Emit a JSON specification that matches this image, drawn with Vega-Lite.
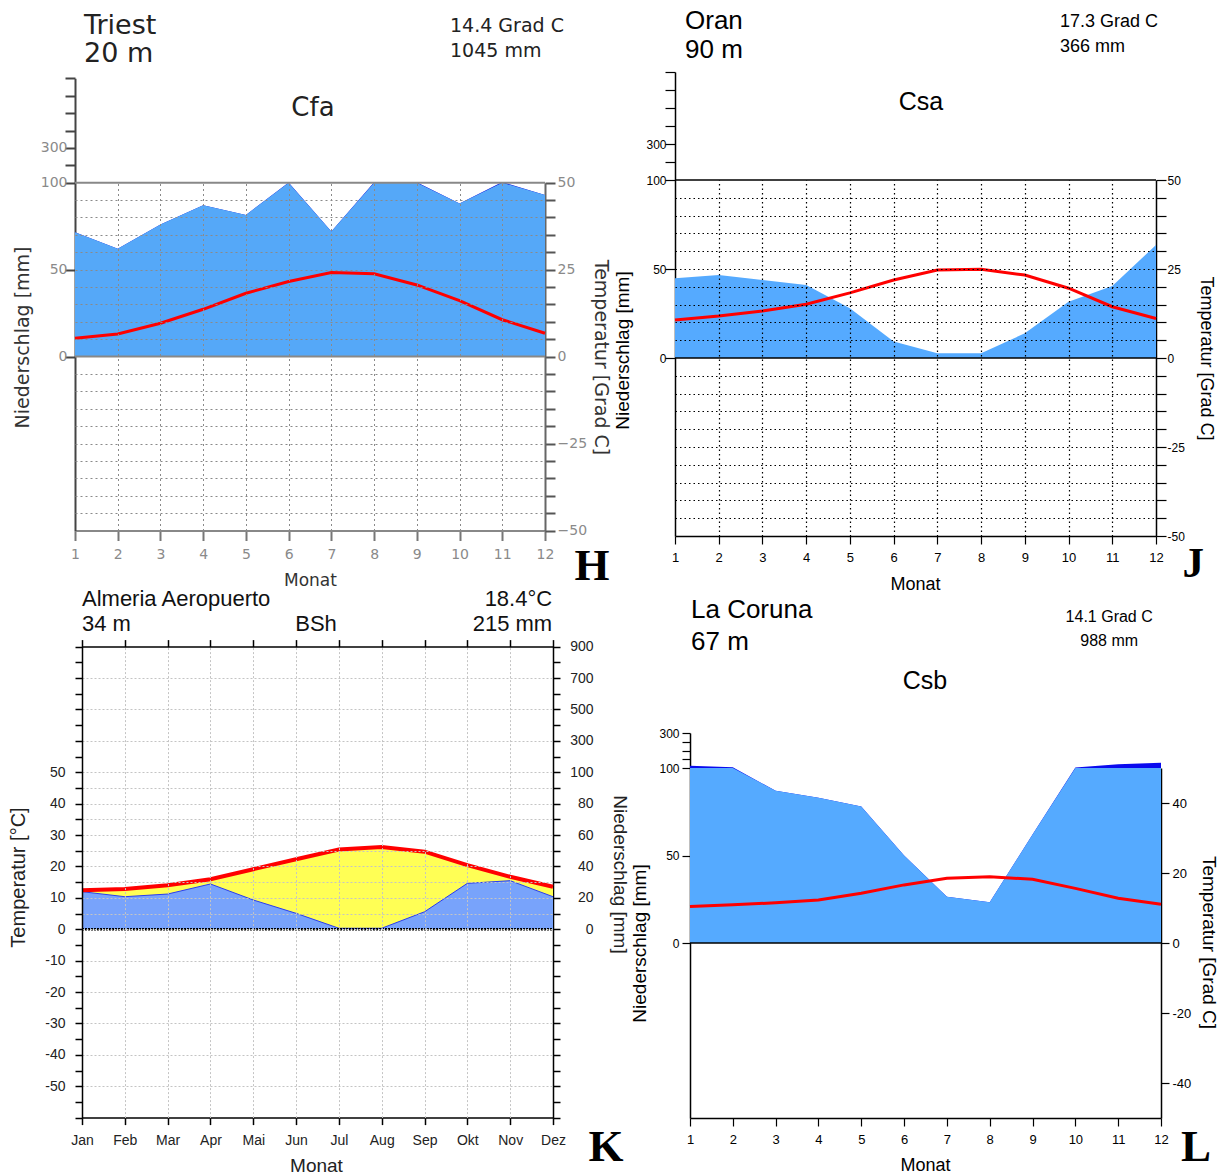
{
"$schema": "https://vega.github.io/schema/vega-lite/v6.json",
"width": 1227, "height": 1175, "autosize": {"type": "none"}, "padding": 0,
"background": "#ffffff",
"config": {"view": {"stroke": null}, "axis": {"labelFlush": false, "labelOverlap": false, "labelBound": false, "titleFontWeight": "normal", "grid": false}},
"datasets": {
"triest": [{"m":1,"p":71.5,"t":5.3},{"m":2,"p":62,"t":6.5},{"m":3,"p":76,"t":9.6},{"m":4,"p":87,"t":13.6},{"m":5,"p":81.5,"t":18.2},{"m":6,"p":101,"t":21.6},{"m":7,"p":72,"t":24.2},{"m":8,"p":102,"t":23.8},{"m":9,"p":102,"t":20.6},{"m":10,"p":88,"t":16.1},{"m":11,"p":104,"t":10.6},{"m":12,"p":93,"t":6.7}],
"oran": [{"m":1,"p":44.8,"t":10.7},{"m":2,"p":46.6,"t":11.8},{"m":3,"p":43.8,"t":13.2},{"m":4,"p":41,"t":15.1},{"m":5,"p":27.9,"t":18.3},{"m":6,"p":9.2,"t":21.9},{"m":7,"p":2.6,"t":24.7},{"m":8,"p":2.6,"t":24.9},{"m":9,"p":13.9,"t":23.3},{"m":10,"p":31.6,"t":19.6},{"m":11,"p":40.4,"t":14.4},{"m":12,"p":63.5,"t":11.1}],
"almeria": [{"m":1,"p":23.9,"t":12.4},{"m":2,"p":20.7,"t":12.8},{"m":3,"p":22.4,"t":14.0},{"m":4,"p":28.8,"t":15.9},{"m":5,"p":18.6,"t":19.1},{"m":6,"p":10.1,"t":22.3},{"m":7,"p":0.6,"t":25.4},{"m":8,"p":0.6,"t":26.2},{"m":9,"p":11.1,"t":24.7},{"m":10,"p":29.2,"t":20.4},{"m":11,"p":30.9,"t":16.7},{"m":12,"p":20.7,"t":13.5}],
"coruna": [{"m":1,"p":113,"t":10.4},{"m":2,"p":104,"t":10.9},{"m":3,"p":87,"t":11.5},{"m":4,"p":83,"t":12.3},{"m":5,"p":78,"t":14.2},{"m":6,"p":50,"t":16.6},{"m":7,"p":26.5,"t":18.5},{"m":8,"p":23.3,"t":18.9},{"m":9,"p":62,"t":18.2},{"m":10,"p":103,"t":15.6},{"m":11,"p":122,"t":12.8},{"m":12,"p":130,"t":11.1}]
},
"resolve": {"scale": {"x": "independent", "y": "independent"}, "axis": {"x": "independent", "y": "independent"}},
"layer": [
{"data": {"name": "triest"}, "mark": {"type": "area", "color": "#0a0adc"},
 "encoding": {
  "x": {"field": "m", "type": "quantitative", "scale": {"domain": [1,12], "range": [75,545], "nice": false, "zero": false}, "axis": null},
  "y": {"field": "p", "type": "quantitative", "scale": {"domain": [-100,0,100,700], "range": [530.5,356.7,182.7,78.3], "nice": false, "zero": false},
   "axis": {"orient": "left", "offset": -75, "values": [0,50,100,200,300,400,500,600,700], "labelExpr": "datum.value==0||datum.value==50||datum.value==100||datum.value==300 ? datum.label : ''", "tickSize": 10, "tickColor": "#444", "tickWidth": 2, "domainColor": "#444", "domainWidth": 2, "labelFont": "DejaVu Sans", "labelFontSize": 14, "labelColor": "#8a8a8a", "labelPadding": -2, "title": "Niederschlag [mm]", "titleFont": "DejaVu Sans", "titleFontSize": 19, "titleColor": "#333", "titleX": -53, "titleY": 337, "titleAngle": -90, "titleAlign": "center", "titleBaseline": "middle"}},
  "y2": {"datum": 0}}},
{"data": {"name": "triest"}, "mark": {"type": "area", "color": "#55a8f8"},
 "encoding": {
  "x": {"field": "m", "type": "quantitative", "scale": {"domain": [1,12], "range": [75,545], "nice": false, "zero": false},
   "axis": {"orient": "bottom", "offset": -644.5, "values": [1,2,3,4,5,6,7,8,9,10,11,12], "tickSize": 10, "tickColor": "#777", "tickWidth": 2, "domainColor": "#888", "domainWidth": 2, "labelFont": "DejaVu Sans", "labelFontSize": 14, "labelColor": "#8a8a8a", "labelPadding": 7, "title": "Monat", "titleFont": "DejaVu Sans", "titleFontSize": 17, "titleColor": "#333", "titleX": 310, "titleY": 50, "titleAlign": "center", "titleBaseline": "middle"}},
  "y": {"field": "p", "type": "quantitative", "scale": {"domain": [-100,0,100], "range": [530.5,356.7,182.7], "clamp": true, "nice": false, "zero": false}, "axis": null},
  "y2": {"datum": 0}}},
{"data": {"values": [{"v": 0}, {"v": 50}]}, "mark": {"type": "rule", "color": "#888", "strokeWidth": 2},
 "encoding": {
  "x": {"datum": 1, "type": "quantitative", "scale": {"domain": [1,12], "range": [75,545], "nice": false, "zero": false},
   "axis": {"orient": "top", "values": [2,3,4,5,6,7,8,9,10,11], "domain": false, "ticks": false, "labels": false, "title": null, "grid": true, "gridColor": "#8a8a8a", "gridDash": [2,3], "gridWidth": 1, "zindex": 1}},
  "x2": {"datum": 12},
  "y": {"field": "v", "type": "quantitative", "scale": {"domain": [-50,50], "range": [530.5,182.7], "nice": false, "zero": false},
   "axis": {"orient": "left", "values": [-45,-40,-35,-30,-25,-20,-15,-10,-5,5,10,15,20,25,30,35,40,45], "domain": false, "ticks": false, "labels": false, "title": null, "grid": true, "gridColor": "#8a8a8a", "gridDash": [2,3], "gridWidth": 1, "zindex": 1}}}},
{"data": {"name": "triest"}, "mark": {"type": "line", "color": "#ff0000", "strokeWidth": 3},
 "encoding": {
  "x": {"field": "m", "type": "quantitative", "scale": {"domain": [1,12], "range": [75,545], "nice": false, "zero": false}, "axis": null},
  "y": {"field": "t", "type": "quantitative", "scale": {"domain": [-50,50], "range": [530.5,182.7], "nice": false, "zero": false},
   "axis": {"orient": "right", "offset": -682, "values": [-50,-45,-40,-35,-30,-25,-20,-15,-10,-5,0,5,10,15,20,25,30,35,40,45,50], "labelExpr": "datum.value % 25 == 0 ? datum.label : ''", "tickSize": 10, "tickColor": "#555", "tickWidth": 2, "domainColor": "#666", "domainWidth": 2, "labelFont": "DejaVu Sans", "labelFontSize": 14, "labelColor": "#8a8a8a", "labelPadding": 2, "title": "Temperatur [Grad C]", "titleFont": "DejaVu Sans", "titleFontSize": 19, "titleColor": "#333", "titleX": 55, "titleY": 357, "titleAngle": 90, "titleAlign": "center", "titleBaseline": "middle"}}}},
{"data": {"values": [{"txt": ["Triest", "20 m"]}]}, "mark": {"type": "text", "align": "left", "baseline": "top", "font": "DejaVu Sans", "fontSize": 27, "lineHeight": 28.4, "color": "#222"},
 "encoding": {"x": {"datum": 1.21, "type": "quantitative", "scale": {"domain": [1,12], "range": [75,545], "nice": false, "zero": false}, "axis": null}, "y": {"datum": 98.8, "type": "quantitative", "scale": {"domain": [-50,50], "range": [530.5,182.7], "nice": false, "zero": false}, "axis": null}, "text": {"field": "txt", "type": "nominal"}}},
{"data": {"values": [{"txt": ["14.4 Grad C", "1045 mm"]}]}, "mark": {"type": "text", "align": "left", "baseline": "top", "font": "DejaVu Sans", "fontSize": 19, "lineHeight": 25, "color": "#222"},
 "encoding": {"x": {"datum": 9.777, "type": "quantitative", "scale": {"domain": [1,12], "range": [75,545], "nice": false, "zero": false}, "axis": null}, "y": {"datum": 97.67, "type": "quantitative", "scale": {"domain": [-50,50], "range": [530.5,182.7], "nice": false, "zero": false}, "axis": null}, "text": {"field": "txt", "type": "nominal"}}},
{"data": {"values": [{"txt": "Cfa"}]}, "mark": {"type": "text", "align": "center", "baseline": "top", "font": "DejaVu Sans", "fontSize": 26, "color": "#222"},
 "encoding": {"x": {"datum": 6.57, "type": "quantitative", "scale": {"domain": [1,12], "range": [75,545], "nice": false, "zero": false}, "axis": null}, "y": {"datum": 75.1, "type": "quantitative", "scale": {"domain": [-50,50], "range": [530.5,182.7], "nice": false, "zero": false}, "axis": null}, "text": {"field": "txt", "type": "nominal"}}},
{"data": {"values": [{"txt": "H"}]}, "mark": {"type": "text", "align": "center", "baseline": "top", "font": "Liberation Serif", "fontWeight": "bold", "fontSize": 45, "color": "#000"},
 "encoding": {"x": {"datum": 13.1, "type": "quantitative", "scale": {"domain": [1,12], "range": [75,545], "nice": false, "zero": false}, "axis": null}, "y": {"datum": -54.0, "type": "quantitative", "scale": {"domain": [-50,50], "range": [530.5,182.7], "nice": false, "zero": false}, "axis": null}, "text": {"field": "txt", "type": "nominal"}}},

{"data": {"name": "oran"}, "mark": {"type": "area", "color": "#55aaff"},
 "encoding": {
  "x": {"field": "m", "type": "quantitative", "scale": {"domain": [1,12], "range": [675,1156], "nice": false, "zero": false}, "axis": null},
  "y": {"field": "p", "type": "quantitative", "scale": {"domain": [-100,0,100,700], "range": [536,358,180,72], "nice": false, "zero": false},
   "axis": {"orient": "left", "offset": -675, "values": [0,50,100,200,300,400,500,600,700], "labelExpr": "datum.value==0||datum.value==50||datum.value==100||datum.value==300 ? ''+datum.value : ''", "tickSize": 10, "tickColor": "#000", "tickWidth": 1.2, "domainColor": "#000", "domainWidth": 1.5, "labelFont": "Liberation Sans", "labelFontSize": 12, "labelColor": "#000", "labelPadding": -1, "title": "Niederschlag [mm]", "titleFont": "Liberation Sans", "titleFontSize": 19, "titleColor": "#000", "titleX": -53, "titleY": 350, "titleAngle": -90, "titleAlign": "center", "titleBaseline": "middle"}},
  "y2": {"datum": 0}}},
{"data": {"values": [{"v": 0}, {"v": 50}]}, "mark": {"type": "rule", "color": "#000", "strokeWidth": 1.5},
 "encoding": {
  "x": {"datum": 1, "type": "quantitative", "scale": {"domain": [1,12], "range": [675,1156], "nice": false, "zero": false},
   "axis": {"orient": "top", "values": [2,3,4,5,6,7,8,9,10,11], "domain": false, "ticks": false, "labels": false, "title": null, "grid": true, "gridColor": "#000", "gridDash": [1.5,3], "gridWidth": 1.2, "zindex": 1}},
  "x2": {"datum": 12},
  "y": {"field": "v", "type": "quantitative", "scale": {"domain": [-50,50], "range": [536,180], "nice": false, "zero": false},
   "axis": {"orient": "left", "values": [-45,-40,-35,-30,-25,-20,-15,-10,-5,5,10,15,20,25,30,35,40,45], "domain": false, "ticks": false, "labels": false, "title": null, "grid": true, "gridColor": "#000", "gridDash": [1.5,3], "gridWidth": 1.2, "zindex": 1}}}},
{"data": {"name": "oran"}, "mark": {"type": "line", "color": "#ff0000", "strokeWidth": 3},
 "encoding": {
  "x": {"field": "m", "type": "quantitative", "scale": {"domain": [1,12], "range": [675,1156], "nice": false, "zero": false},
   "axis": {"orient": "bottom", "offset": -639, "values": [1,2,3,4,5,6,7,8,9,10,11,12], "tickSize": 8, "tickColor": "#000", "tickWidth": 1.2, "domainColor": "#000", "domainWidth": 1.5, "labelFont": "Liberation Sans", "labelFontSize": 13, "labelColor": "#000", "labelPadding": 7, "title": "Monat", "titleFont": "Liberation Sans", "titleFontSize": 18, "titleColor": "#000", "titleX": 915, "titleY": 48, "titleAlign": "center", "titleBaseline": "middle"}},
  "y": {"field": "t", "type": "quantitative", "scale": {"domain": [-50,50], "range": [536,180], "nice": false, "zero": false},
   "axis": {"orient": "right", "offset": -71, "values": [-50,-45,-40,-35,-30,-25,-20,-15,-10,-5,0,5,10,15,20,25,30,35,40,45,50], "labelExpr": "datum.value % 25 == 0 ? ''+datum.value : ''", "tickSize": 10, "tickColor": "#000", "tickWidth": 1.2, "domainColor": "#000", "domainWidth": 1.5, "labelFont": "Liberation Sans", "labelFontSize": 12, "labelColor": "#000", "labelPadding": 1, "title": "Temperatur [Grad C]", "titleFont": "Liberation Sans", "titleFontSize": 18, "titleColor": "#000", "titleX": 49, "titleY": 358, "titleAngle": 90, "titleAlign": "center", "titleBaseline": "middle"}}}},
{"data": {"values": [{"txt": ["Oran", "90 m"]}]}, "mark": {"type": "text", "align": "left", "baseline": "top", "font": "Liberation Sans", "fontSize": 26, "lineHeight": 29, "color": "#000"},
 "encoding": {"x": {"datum": 1.229, "type": "quantitative", "scale": {"domain": [1,12], "range": [675,1156], "nice": false, "zero": false}, "axis": null}, "y": {"datum": 98.4, "type": "quantitative", "scale": {"domain": [-50,50], "range": [536,180], "nice": false, "zero": false}, "axis": null}, "text": {"field": "txt", "type": "nominal"}}},
{"data": {"values": [{"txt": ["17.3 Grad C", "366 mm"]}]}, "mark": {"type": "text", "align": "left", "baseline": "top", "font": "Liberation Sans", "fontSize": 18, "lineHeight": 25, "color": "#000"},
 "encoding": {"x": {"datum": 9.805, "type": "quantitative", "scale": {"domain": [1,12], "range": [675,1156], "nice": false, "zero": false}, "axis": null}, "y": {"datum": 97.05, "type": "quantitative", "scale": {"domain": [-50,50], "range": [536,180], "nice": false, "zero": false}, "axis": null}, "text": {"field": "txt", "type": "nominal"}}},
{"data": {"values": [{"txt": "Csa"}]}, "mark": {"type": "text", "align": "center", "baseline": "top", "font": "Liberation Sans", "fontSize": 25, "color": "#000"},
 "encoding": {"x": {"datum": 6.626, "type": "quantitative", "scale": {"domain": [1,12], "range": [675,1156], "nice": false, "zero": false}, "axis": null}, "y": {"datum": 75.2, "type": "quantitative", "scale": {"domain": [-50,50], "range": [536,180], "nice": false, "zero": false}, "axis": null}, "text": {"field": "txt", "type": "nominal"}}},
{"data": {"values": [{"txt": "J"}]}, "mark": {"type": "text", "align": "center", "baseline": "top", "font": "Liberation Serif", "fontWeight": "bold", "fontSize": 43, "color": "#000"},
 "encoding": {"x": {"datum": 12.85, "type": "quantitative", "scale": {"domain": [1,12], "range": [675,1156], "nice": false, "zero": false}, "axis": null}, "y": {"datum": -52.0, "type": "quantitative", "scale": {"domain": [-50,50], "range": [536,180], "nice": false, "zero": false}, "axis": null}, "text": {"field": "txt", "type": "nominal"}}},

{"data": {"name": "almeria"}, "mark": {"type": "area", "color": "#ffff55"},
 "encoding": {
  "x": {"field": "m", "type": "quantitative", "scale": {"domain": [1,12], "range": [82,553], "nice": false, "zero": false},
   "axis": {"orient": "bottom", "offset": -57.4, "values": [1,2,3,4,5,6,7,8,9,10,11,12], "labelExpr": "['Jan','Feb','Mar','Apr','Mai','Jun','Jul','Aug','Sep','Okt','Nov','Dez'][datum.value-1]", "tickSize": 7, "tickColor": "#000", "tickWidth": 1.5, "domainColor": "#000", "domainWidth": 1.5, "labelFont": "Liberation Sans", "labelFontSize": 14, "labelColor": "#222", "labelPadding": 9, "title": "Monat", "titleFont": "Liberation Sans", "titleFontSize": 19, "titleColor": "#222", "titleX": 316, "titleY": 47.4, "titleAlign": "center", "titleBaseline": "middle"}},
  "y": {"field": "t", "type": "quantitative", "scale": {"domain": [-60,90], "range": [1117.6,646.6], "nice": false, "zero": false},
   "axis": {"orient": "left", "offset": -82, "values": [-60,-55,-50,-45,-40,-35,-30,-25,-20,-15,-10,-5,0,5,10,15,20,25,30,35,40,45,50,55,60,65,70,75,80,85,90], "labelExpr": "datum.value>=-50 && datum.value<=50 && datum.value%10==0 ? ''+datum.value : ''", "tickSize": 7, "tickColor": "#000", "tickWidth": 1.5, "domainColor": "#000", "domainWidth": 1.5, "labelFont": "Liberation Sans", "labelFontSize": 14, "labelColor": "#222", "labelPadding": 10, "grid": true, "gridColor": "#c4c4c4", "gridDash": [2,2], "gridWidth": 1, "gridOpacity": {"condition": {"test": "(datum.value >= 0 && datum.value <= 50) || (datum.value < 0 && datum.value > -60 && datum.value % 10 == 0) || datum.value == 60 || datum.value == 70 || datum.value == 80", "value": 1}, "value": 0}, "zindex": 1, "title": "Temperatur [°C]", "titleFont": "Liberation Sans", "titleFontSize": 20, "titleColor": "#222", "titleX": -64, "titleY": 877, "titleAngle": -90, "titleAlign": "center", "titleBaseline": "middle"}},
  "y2": {"datum": 0}}},
{"data": {"name": "almeria"}, "mark": {"type": "area", "color": "#78a3fb", "opacity": 1, "line": {"color": "#2a3cf0", "strokeWidth": 1}},
 "encoding": {
  "x": {"field": "m", "type": "quantitative", "scale": {"domain": [1,12], "range": [82,553], "nice": false, "zero": false},
   "axis": {"orient": "top", "offset": -646.6, "values": [1,2,3,4,5,6,7,8,9,10,11,12], "labels": false, "tickSize": 7, "tickColor": "#000", "tickWidth": 1.5, "domainColor": "#000", "domainWidth": 1.5, "title": null}},
  "y": {"field": "p", "type": "quantitative", "scale": {"domain": [-120,0,100,900], "range": [1117.6,929.2,772.2,646.6], "nice": false, "zero": false},
   "axis": {"orient": "right", "offset": -674, "values": [-120,-110,-100,-90,-80,-70,-60,-50,-40,-30,-20,-10,0,10,20,30,40,50,60,70,80,90,100,200,300,400,500,600,700,800,900], "labelExpr": "indexof([0,20,40,60,80,100,300,500,700,900], datum.value) >= 0 ? ''+datum.value : ''", "tickSize": 7, "tickColor": "#000", "tickWidth": 1.5, "domainColor": "#000", "domainWidth": 1.5, "labelFont": "Liberation Sans", "labelFontSize": 14, "labelColor": "#222", "labelAlign": "right", "labelPadding": 33, "title": "Niederschlag [mm]", "titleFont": "Liberation Sans", "titleFontSize": 19, "titleColor": "#222", "titleX": 66, "titleY": 874, "titleAngle": 90, "titleAlign": "center", "titleBaseline": "middle"}},
  "y2": {"datum": 0}}},
{"data": {"name": "almeria"}, "mark": {"type": "line", "color": "#ff0000", "strokeWidth": 4},
 "encoding": {
  "x": {"field": "m", "type": "quantitative", "scale": {"domain": [1,12], "range": [82,553], "nice": false, "zero": false}, "axis": null},
  "y": {"field": "t", "type": "quantitative", "scale": {"domain": [-60,90], "range": [1117.6,646.6], "nice": false, "zero": false}, "axis": null}}},
{"data": {"values": [{"v": 0}]}, "mark": {"type": "rule", "color": "#000", "strokeWidth": 2.5, "strokeDash": [2,1]},
 "encoding": {
  "x": {"datum": 1, "type": "quantitative", "scale": {"domain": [1,12], "range": [82,553], "nice": false, "zero": false},
   "axis": {"orient": "top", "values": [2,3,4,5,6,7,8,9,10,11], "domain": false, "ticks": false, "labels": false, "title": null, "grid": true, "gridColor": "#c4c4c4", "gridDash": [2,2], "gridWidth": 1, "zindex": 1}},
  "x2": {"datum": 12},
  "y": {"field": "v", "type": "quantitative", "scale": {"domain": [-60,90], "range": [1117.6,646.6], "nice": false, "zero": false}, "axis": null}}},
{"data": {"values": [{"txt": ["Almeria Aeropuerto", "34 m"]}]}, "mark": {"type": "text", "align": "left", "baseline": "top", "font": "Liberation Sans", "fontSize": 22, "lineHeight": 25, "color": "#111"},
 "encoding": {"x": {"datum": 1.0, "type": "quantitative", "scale": {"domain": [1,12], "range": [82,553], "nice": false, "zero": false}, "axis": null}, "y": {"datum": 108.2, "type": "quantitative", "scale": {"domain": [-60,90], "range": [1117.6,646.6], "nice": false, "zero": false}, "axis": null}, "text": {"field": "txt", "type": "nominal"}}},
{"data": {"values": [{"txt": ["18.4°C", "215 mm"]}]}, "mark": {"type": "text", "align": "right", "baseline": "top", "font": "Liberation Sans", "fontSize": 22, "lineHeight": 25, "color": "#111"},
 "encoding": {"x": {"datum": 11.98, "type": "quantitative", "scale": {"domain": [1,12], "range": [82,553], "nice": false, "zero": false}, "axis": null}, "y": {"datum": 108.2, "type": "quantitative", "scale": {"domain": [-60,90], "range": [1117.6,646.6], "nice": false, "zero": false}, "axis": null}, "text": {"field": "txt", "type": "nominal"}}},
{"data": {"values": [{"txt": "BSh"}]}, "mark": {"type": "text", "align": "center", "baseline": "top", "font": "Liberation Sans", "fontSize": 22, "color": "#111"},
 "encoding": {"x": {"datum": 6.465, "type": "quantitative", "scale": {"domain": [1,12], "range": [82,553], "nice": false, "zero": false}, "axis": null}, "y": {"datum": 100.3, "type": "quantitative", "scale": {"domain": [-60,90], "range": [1117.6,646.6], "nice": false, "zero": false}, "axis": null}, "text": {"field": "txt", "type": "nominal"}}},
{"data": {"values": [{"txt": "K"}]}, "mark": {"type": "text", "align": "center", "baseline": "top", "font": "Liberation Serif", "fontWeight": "bold", "fontSize": 45, "color": "#000"},
 "encoding": {"x": {"datum": 13.24, "type": "quantitative", "scale": {"domain": [1,12], "range": [82,553], "nice": false, "zero": false}, "axis": null}, "y": {"datum": -62.3, "type": "quantitative", "scale": {"domain": [-60,90], "range": [1117.6,646.6], "nice": false, "zero": false}, "axis": null}, "text": {"field": "txt", "type": "nominal"}}},

{"data": {"name": "coruna"}, "mark": {"type": "area", "color": "#0a0aee"},
 "encoding": {
  "x": {"field": "m", "type": "quantitative", "scale": {"domain": [1,12], "range": [690,1161], "nice": false, "zero": false}, "axis": null},
  "y": {"field": "p", "type": "quantitative", "scale": {"domain": [-100,0,100,300], "range": [1118,943,768,733], "nice": false, "zero": false},
   "axis": {"orient": "left", "offset": -690, "values": [0,50,100,150,200,250,300], "labelExpr": "datum.value==0||datum.value==50||datum.value==100||datum.value==300 ? ''+datum.value : ''", "tickSize": 8, "tickColor": "#000", "tickWidth": 1.2, "domainColor": "#000", "domainWidth": 1.5, "labelFont": "Liberation Sans", "labelFontSize": 12, "labelColor": "#000", "labelPadding": 3, "title": "Niederschlag [mm]", "titleFont": "Liberation Sans", "titleFontSize": 19, "titleColor": "#000", "titleX": -51, "titleY": 943, "titleAngle": -90, "titleAlign": "center", "titleBaseline": "middle"}},
  "y2": {"datum": 0}}},
{"data": {"name": "coruna"}, "mark": {"type": "area", "color": "#55aaff"},
 "encoding": {
  "x": {"field": "m", "type": "quantitative", "scale": {"domain": [1,12], "range": [690,1161], "nice": false, "zero": false},
   "axis": {"orient": "bottom", "offset": -57, "values": [1,2,3,4,5,6,7,8,9,10,11,12], "tickSize": 8, "tickColor": "#000", "tickWidth": 1.2, "domainColor": "#000", "domainWidth": 1.5, "labelFont": "Liberation Sans", "labelFontSize": 13, "labelColor": "#000", "labelPadding": 7, "title": "Monat", "titleFont": "Liberation Sans", "titleFontSize": 18, "titleColor": "#000", "titleX": 925, "titleY": 47, "titleAlign": "center", "titleBaseline": "middle"}},
  "y": {"field": "p", "type": "quantitative", "scale": {"domain": [-100,0,100], "range": [1118,943,768], "clamp": true, "nice": false, "zero": false}, "axis": null},
  "y2": {"datum": 0}}},
{"data": {"values": [{"v": 0}]}, "mark": {"type": "rule", "color": "#000", "strokeWidth": 1.5},
 "encoding": {
  "x": {"datum": 1, "type": "quantitative", "scale": {"domain": [1,12], "range": [690,1161], "nice": false, "zero": false}, "axis": null},
  "x2": {"datum": 12},
  "y": {"field": "v", "type": "quantitative", "scale": {"domain": [-50,50], "range": [1118,768], "nice": false, "zero": false}, "axis": null}}},
{"data": {"name": "coruna"}, "mark": {"type": "line", "color": "#ff0000", "strokeWidth": 3},
 "encoding": {
  "x": {"field": "m", "type": "quantitative", "scale": {"domain": [1,12], "range": [690,1161], "nice": false, "zero": false}, "axis": null},
  "y": {"field": "t", "type": "quantitative", "scale": {"domain": [-50,50], "range": [1118,768], "nice": false, "zero": false},
   "axis": {"orient": "right", "offset": -66, "values": [-40,-20,0,20,40], "labelExpr": "''+datum.value", "tickSize": 8, "tickColor": "#000", "tickWidth": 1.2, "domainColor": "#000", "domainWidth": 1.5, "labelFont": "Liberation Sans", "labelFontSize": 13, "labelColor": "#000", "labelPadding": 3, "title": "Temperatur [Grad C]", "titleFont": "Liberation Sans", "titleFontSize": 19, "titleColor": "#000", "titleX": 47, "titleY": 942, "titleAngle": 90, "titleAlign": "center", "titleBaseline": "middle"}}}},
{"data": {"values": [{"txt": ["La Coruna", "67  m"]}]}, "mark": {"type": "text", "align": "left", "baseline": "top", "font": "Liberation Sans", "fontSize": 26, "lineHeight": 32, "color": "#000"},
 "encoding": {"x": {"datum": 1.023, "type": "quantitative", "scale": {"domain": [1,12], "range": [690,1161], "nice": false, "zero": false}, "axis": null}, "y": {"datum": 98.9, "type": "quantitative", "scale": {"domain": [-50,50], "range": [1118,768], "nice": false, "zero": false}, "axis": null}, "text": {"field": "txt", "type": "nominal"}}},
{"data": {"values": [{"txt": ["14.1 Grad C", "988 mm"]}]}, "mark": {"type": "text", "align": "center", "baseline": "top", "font": "Liberation Sans", "fontSize": 16, "lineHeight": 24, "color": "#000"},
 "encoding": {"x": {"datum": 10.79, "type": "quantitative", "scale": {"domain": [1,12], "range": [690,1161], "nice": false, "zero": false}, "axis": null}, "y": {"datum": 95.4, "type": "quantitative", "scale": {"domain": [-50,50], "range": [1118,768], "nice": false, "zero": false}, "axis": null}, "text": {"field": "txt", "type": "nominal"}}},
{"data": {"values": [{"txt": "Csb"}]}, "mark": {"type": "text", "align": "center", "baseline": "top", "font": "Liberation Sans", "fontSize": 25, "color": "#000"},
 "encoding": {"x": {"datum": 6.488, "type": "quantitative", "scale": {"domain": [1,12], "range": [690,1161], "nice": false, "zero": false}, "axis": null}, "y": {"datum": 78.4, "type": "quantitative", "scale": {"domain": [-50,50], "range": [1118,768], "nice": false, "zero": false}, "axis": null}, "text": {"field": "txt", "type": "nominal"}}},
{"data": {"values": [{"txt": "L"}]}, "mark": {"type": "text", "align": "center", "baseline": "top", "font": "Liberation Serif", "fontWeight": "bold", "fontSize": 45, "color": "#000"},
 "encoding": {"x": {"datum": 12.82, "type": "quantitative", "scale": {"domain": [1,12], "range": [690,1161], "nice": false, "zero": false}, "axis": null}, "y": {"datum": -52.0, "type": "quantitative", "scale": {"domain": [-50,50], "range": [1118,768], "nice": false, "zero": false}, "axis": null}, "text": {"field": "txt", "type": "nominal"}}}
]
}
